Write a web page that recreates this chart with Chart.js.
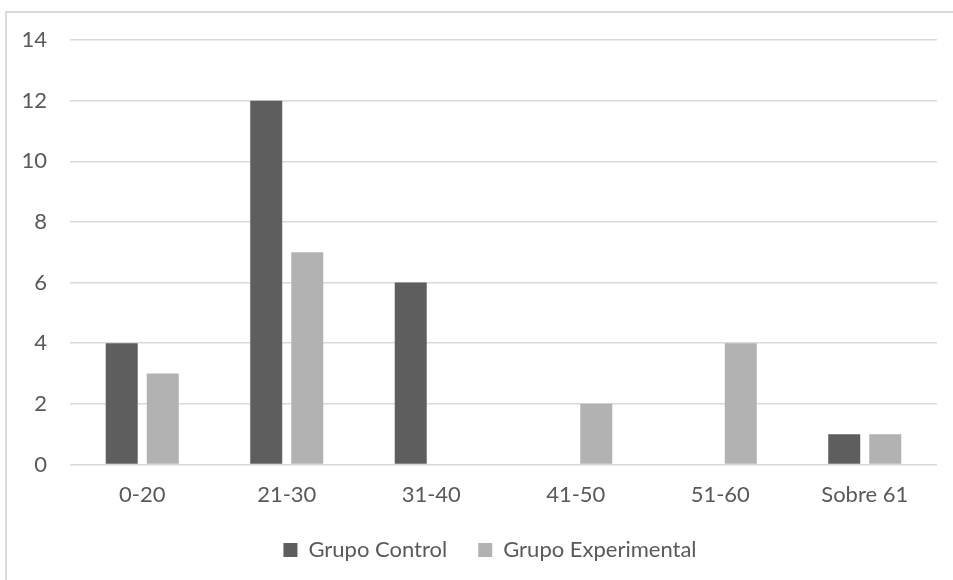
<!DOCTYPE html>
<html>
<head>
<meta charset="utf-8">
<script src="https://cdn.jsdelivr.net/npm/chart.js@4/dist/chart.umd.min.js"></script>
<style>
  html, body { margin: 0; padding: 0; background: #ffffff; }
  #wrap { position: relative; width: 953px; height: 580px; overflow: hidden; }
  #frame {
    position: absolute; left: 5px; top: 11px; width: 960px; height: 600px;
    border-left: 2px solid #dadada; border-top: 2px solid #dadada;
    box-sizing: border-box;
  }
  canvas { position: absolute; left: 0; top: 0; }
</style>
</head>
<body>
<div id="wrap">
  <div id="frame"></div>
  <canvas id="chart" width="953" height="580"></canvas>
</div>
<script>
// Age ranges (years) and number of participants in each group
const categories = ['0-20', '21-30', '31-40', '41-50', '51-60', 'Sobre 61'];
const grupoControl = [4, 12, 6, 0, 0, 1];
const grupoExperimental = [3, 7, 0, 2, 4, 1];
const yTicks = [0, 2, 4, 6, 8, 10, 12, 14];

const FONT = 'Lato, "Open Sans", sans-serif';
const TEXT = '#595959';
const GRID = '#d9d9d9';

// Nudge the legend so it sits centred under the whole frame rather than the canvas
const legendShift = {
  id: 'legendShift',
  afterUpdate(chart) {
    const lg = chart.legend;
    if (!lg) return;
    const dx = 13.5;
    lg.left += dx;
    lg.right += dx;
    if (lg.legendHitBoxes) lg.legendHitBoxes.forEach(b => { b.left += dx; });
  }
};

new Chart(document.getElementById('chart'), {
  type: 'bar',
  data: {
    labels: categories,
    datasets: [
      { label: 'Grupo Control', data: grupoControl, backgroundColor: '#5e5e5e',
        categoryPercentage: 0.568, barPercentage: 0.78 },
      { label: 'Grupo Experimental', data: grupoExperimental, backgroundColor: '#b2b2b2',
        categoryPercentage: 0.568, barPercentage: 0.78 }
    ]
  },
  plugins: [legendShift],
  options: {
    responsive: false,
    animation: false,
    layout: { padding: { top: 40, left: 16, right: 16, bottom: 9 } },
    plugins: {
      tooltip: { enabled: false },
      legend: {
        position: 'bottom',
        labels: {
          boxWidth: 14, boxHeight: 14, padding: 31,
          color: TEXT, font: { family: FONT, size: 22 }
        }
      }
    },
    scales: {
      x: {
        grid: { display: false, drawTicks: false },
        border: { display: false },
        ticks: { color: TEXT, font: { family: FONT, size: 22 }, padding: 17 },
        afterFit: s => { s.height = 43.5; }
      },
      y: {
        min: 0, max: 14,
        afterBuildTicks: s => { s.ticks = yTicks.map(v => ({ value: v })); },
        grid: { color: GRID, lineWidth: 1.5, drawTicks: false },
        border: { display: false },
        ticks: { color: TEXT, font: { family: FONT, size: 22 }, padding: 23 },
        afterFit: s => { s.width = 54; }
      }
    }
  }
});
</script>
</body>
</html>
